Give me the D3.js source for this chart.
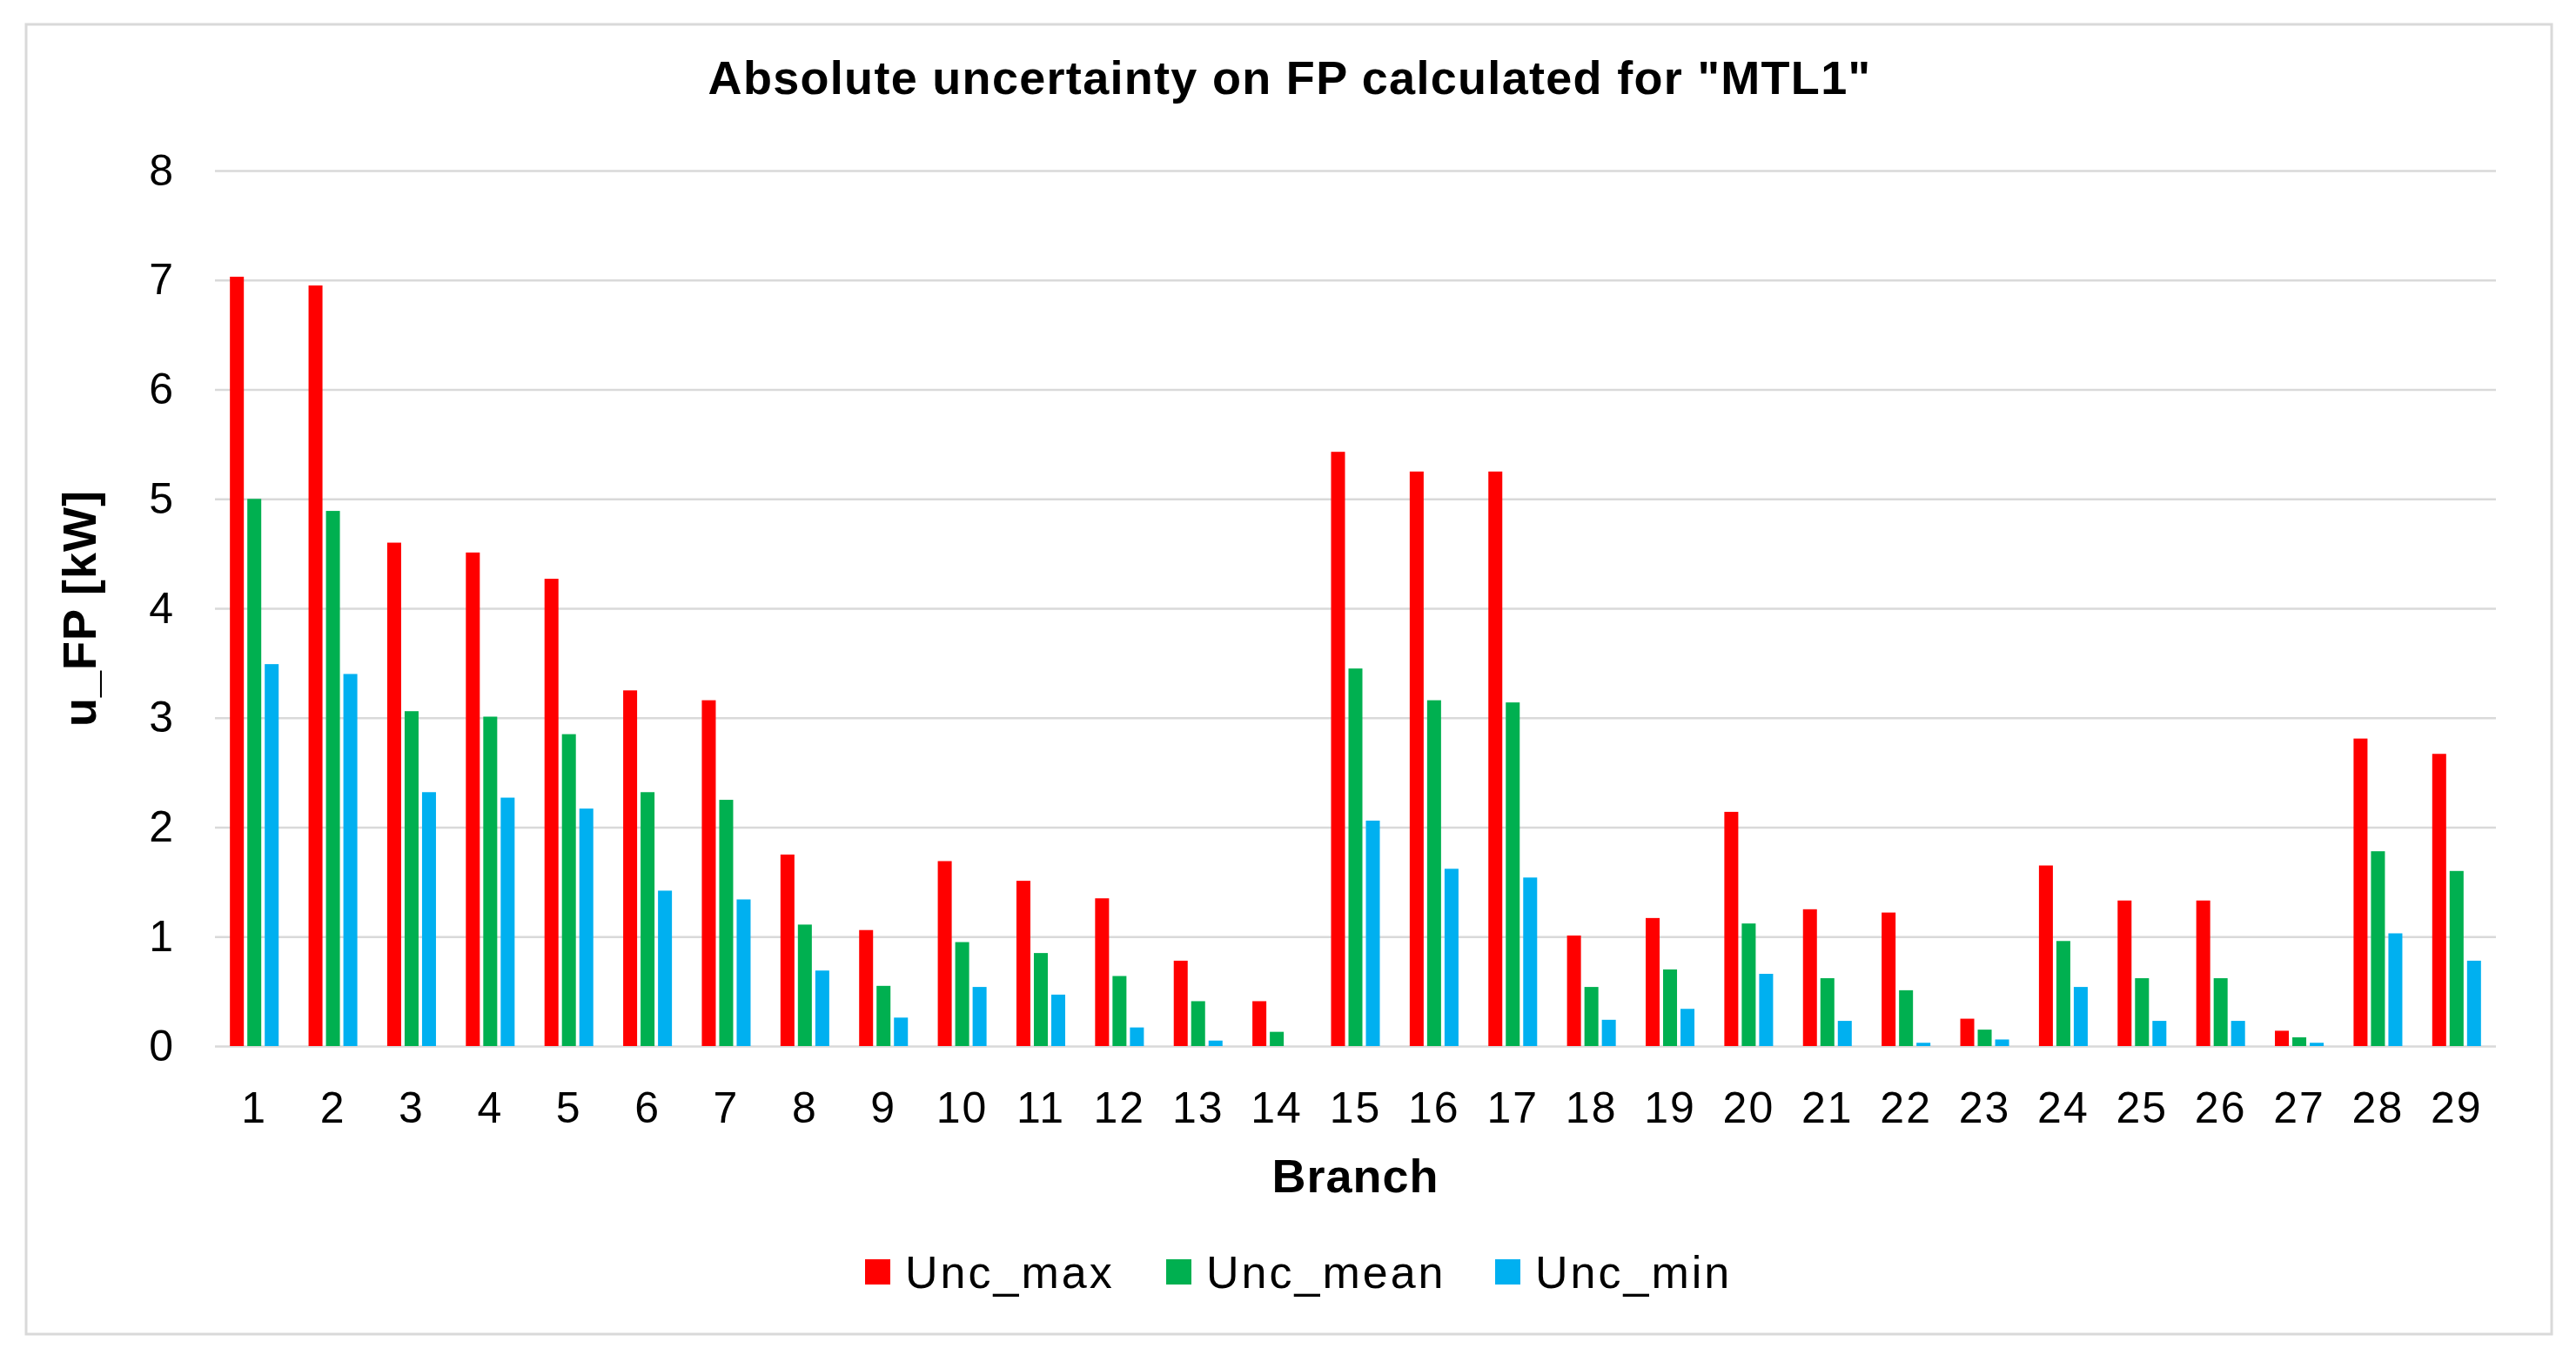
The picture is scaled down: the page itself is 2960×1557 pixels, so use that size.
<!DOCTYPE html>
<html>
<head>
<meta charset="utf-8">
<script src="https://cdn.jsdelivr.net/npm/d3@7"></script>
<style>
  body { margin: 0; background: #fff; }
  text { font-family: 'Liberation Sans', Arial, sans-serif; fill: #000; }
</style>
</head>
<body>
<div id="chart"></div>
<script>
// Data
const branches = ['1', '2', '3', '4', '5', '6', '7', '8', '9', '10', '11', '12', '13', '14', '15',
  '16', '17', '18', '19', '20', '21', '22', '23', '24', '25', '26', '27', '28', '29'];
const uncMax = [7.03, 6.95, 4.6, 4.51, 4.27, 3.25, 3.16, 1.75, 1.06, 1.69, 1.51, 1.35, 0.78, 0.41, 5.43,
  5.25, 5.25, 1.01, 1.17, 2.14, 1.25, 1.22, 0.25, 1.65, 1.33, 1.33, 0.14, 2.81, 2.67];
const uncMean = [5.0, 4.89, 3.06, 3.01, 2.85, 2.32, 2.25, 1.11, 0.55, 0.95, 0.85, 0.64, 0.41, 0.13, 3.45,
  3.16, 3.14, 0.54, 0.7, 1.12, 0.62, 0.51, 0.15, 0.96, 0.62, 0.62, 0.08, 1.78, 1.6];
const uncMin = [3.49, 3.4, 2.32, 2.27, 2.17, 1.42, 1.34, 0.69, 0.26, 0.54, 0.47, 0.17, 0.05, 0, 2.06,
  1.62, 1.54, 0.24, 0.34, 0.66, 0.23, 0.03, 0.06, 0.54, 0.23, 0.23, 0.03, 1.03, 0.78];
const seriesNames = ['Unc_max', 'Unc_mean', 'Unc_min'];
const seriesColors = ['#FF0000', '#00B050', '#00B0F0'];
const yTicks = [0, 1, 2, 3, 4, 5, 6, 7, 8];

// Dimensions
const WIDTH = 2960;
const HEIGHT = 1557;
const PLOT = { LEFT: 247, RIGHT: 2868, TOP: 196, BOTTOM: 1202 };

const svg = d3
  .select('#chart')
  .append('svg')
  .attr('width', WIDTH)
  .attr('height', HEIGHT);

// Chart border
svg
  .append('rect')
  .attr('x', 30)
  .attr('y', 28)
  .attr('width', 2902)
  .attr('height', 1505)
  .attr('fill', '#fff')
  .attr('stroke', '#D9D9D9')
  .attr('stroke-width', 3);

// Scales
const x0 = d3
  .scaleBand()
  .domain(branches)
  .range([PLOT.LEFT, PLOT.RIGHT])
  .paddingInner(0.38)
  .paddingOuter(0.19);

const x1 = d3
  .scaleBand()
  .domain(seriesNames)
  .range([0, x0.bandwidth()])
  .paddingInner(0.2);

const y = d3.scaleLinear().domain([0, 8]).range([PLOT.BOTTOM, PLOT.TOP]);

// Y axis with gridlines
const yAxis = svg
  .append('g')
  .attr('transform', `translate(${PLOT.LEFT},0)`)
  .call(
    d3
      .axisLeft(y)
      .tickValues(yTicks)
      .tickSize(-(PLOT.RIGHT - PLOT.LEFT))
      .tickPadding(48)
  );
yAxis.select('.domain').remove();
yAxis.selectAll('.tick line').attr('stroke', '#D9D9D9').attr('stroke-width', 2.5);
yAxis
  .selectAll('.tick text')
  .attr('font-size', 50)
  .attr('font-family', "'Liberation Sans', Arial, sans-serif")
  .attr('fill', '#111');

// X axis
const xAxis = svg
  .append('g')
  .attr('transform', `translate(0,${PLOT.BOTTOM})`)
  .call(d3.axisBottom(x0).tickSize(0).tickPadding(52));
xAxis.select('.domain').remove();
xAxis
  .selectAll('.tick text')
  .attr('font-size', 50)
  .attr('letter-spacing', 2)
  .attr('font-family', "'Liberation Sans', Arial, sans-serif")
  .attr('fill', '#111');

// Bars
const table = branches.map((b, i) => ({
  branch: b,
  values: [uncMax[i], uncMean[i], uncMin[i]].map((v, j) => ({ key: seriesNames[j], value: v })),
}));

const groups = svg
  .selectAll('g.group')
  .data(table)
  .enter()
  .append('g')
  .attr('class', 'group')
  .attr('transform', (d) => `translate(${x0(d.branch)},0)`);

groups
  .selectAll('rect')
  .data((d) => d.values)
  .enter()
  .append('rect')
  .attr('x', (d) => x1(d.key))
  .attr('y', (d) => y(d.value))
  .attr('width', x1.bandwidth())
  .attr('height', (d) => y(0) - y(d.value))
  .attr('fill', (d, j) => seriesColors[j]);

// Title
svg
  .append('text')
  .attr('x', 1482)
  .attr('y', 108)
  .attr('text-anchor', 'middle')
  .attr('font-size', 54)
  .attr('font-weight', 'bold')
  .attr('letter-spacing', 1.3)
  .text('Absolute uncertainty on FP calculated for "MTL1"');

// Axis titles
svg
  .append('text')
  .attr('x', (PLOT.LEFT + PLOT.RIGHT) / 2)
  .attr('y', 1370)
  .attr('text-anchor', 'middle')
  .attr('font-size', 54)
  .attr('font-weight', 'bold')
  .attr('letter-spacing', 1)
  .text('Branch');

svg
  .append('text')
  .attr('transform', `translate(110,${(PLOT.TOP + PLOT.BOTTOM) / 2}) rotate(-90)`)
  .attr('text-anchor', 'middle')
  .attr('font-size', 54)
  .attr('font-weight', 'bold')
  .attr('letter-spacing', 1)
  .text('u_FP [kW]');

// Legend
const legendX = [994, 1340, 1718];
const legend = svg
  .selectAll('g.legend')
  .data(seriesNames)
  .enter()
  .append('g')
  .attr('class', 'legend')
  .attr('transform', (d, i) => `translate(${legendX[i]},1447)`);

legend
  .append('rect')
  .attr('width', 29)
  .attr('height', 29)
  .attr('fill', (d, i) => seriesColors[i]);

legend
  .append('text')
  .attr('x', 46)
  .attr('y', 33)
  .attr('font-size', 52)
  .attr('letter-spacing', 3)
  .text((d) => d);
</script>
</body>
</html>
